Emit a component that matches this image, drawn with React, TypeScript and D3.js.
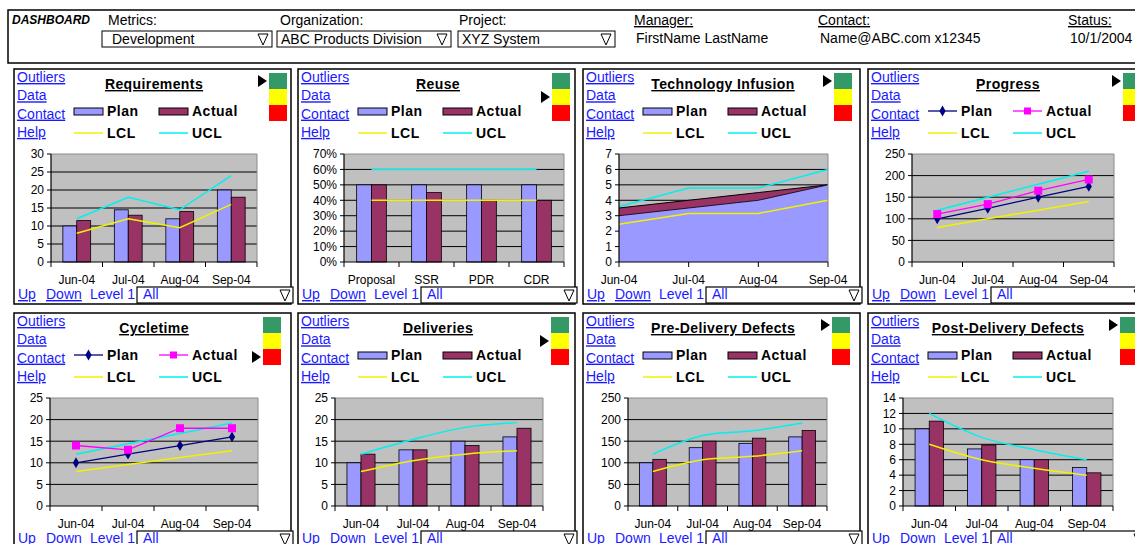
import * as d3 from "d3";

const months = ["Jun-04", "Jul-04", "Aug-04", "Sep-04"];
const phases = ["Proposal", "SSR", "PDR", "CDR"];

const reqPlan = [10, 14.5, 12, 20];
const reqActual = [11.5, 13, 14, 18];
const reqLCL = [8, 12, 9.5, 16];
const reqUCL = [12, 18, 14.5, 24];

const reusePlan = [0.5, 0.5, 0.5, 0.5];
const reuseActual = [0.5, 0.45, 0.4, 0.4];
const reuseLCL = [0.4, 0.4, 0.4, 0.4];
const reuseUCL = [0.6, 0.6, 0.6, 0.6];

const techPlan = [3, 3.5, 4, 5];
const techActual = [3.5, 4, 4.5, 5];
const techLCL = [2.45, 3.15, 3.15, 4];
const techUCL = [3.6, 4.8, 4.8, 6];

const progPlan = [100, 124, 150, 175];
const progActual = [111, 134, 165, 191];
const progLCL = [80, 100, 120, 140];
const progUCL = [120, 150, 180, 210];

const cyclePlan = [10, 12, 14, 16];
const cycleActual = [14, 13, 18, 18];
const cycleLCL = [8, 9.6, 11.2, 12.8];
const cycleUCL = [12, 14.4, 16.8, 19.2];

const delivPlan = [10, 13, 15, 16];
const delivActual = [12, 13, 14, 18];
const delivLCL = [8, 10.5, 12, 12.8];
const delivUCL = [12, 15.4, 18.2, 19.3];

const preDefPlan = [100, 135, 145, 160];
const preDefActual = [108, 150, 157, 175];
const preDefLCL = [80, 107, 115, 128];
const preDefUCL = [120, 163, 174, 192];

const postDefPlan = [10, 7.4, 6, 5];
const postDefActual = [11, 7.9, 6, 4.3];
const postDefLCL = [8, 6, 4.9, 4];
const postDefUCL = [12, 8.9, 7.3, 6];

// 0 = green, 1 = yellow, 2 = red
const statusIdx = [0, 1, 0, 0, 2, 1, 0, 0];

const FONT = "'Liberation Sans', Arial, sans-serif";
const LINK = "#1a1aff";
const PLAN = "#9999ff";
const ACTUAL = "#993366";
const LCLC = "#f2f200";
const UCLC = "#00f0f0";
const LIGHTS = ["#339966", "#ffff00", "#ff0000"];

type Cfg = {
  title: string;
  kind: "bar" | "line" | "area";
  cats: string[];
  plan: number[];
  actual: number[];
  lcl: number[];
  ucl: number[];
  max: number;
  step: number;
  pct?: boolean;
  smooth?: boolean;
  left: number;
  right: number;
  lightX: number;
};

const panels: Cfg[] = [
  { title: "Requirements", kind: "bar", cats: months, plan: reqPlan, actual: reqActual, lcl: reqLCL, ucl: reqUCL, max: 30, step: 5, left: 37, right: 243, lightX: 255 },
  { title: "Reuse", kind: "bar", cats: phases, plan: reusePlan, actual: reuseActual, lcl: reuseLCL, ucl: reuseUCL, max: 0.7, step: 0.1, pct: true, left: 46, right: 266, lightX: 254 },
  { title: "Technology Infusion", kind: "area", cats: months, plan: techPlan, actual: techActual, lcl: techLCL, ucl: techUCL, max: 7, step: 1, left: 36, right: 245, lightX: 251 },
  { title: "Progress", kind: "line", cats: months, plan: progPlan, actual: progActual, lcl: progLCL, ucl: progUCL, max: 250, step: 50, left: 44, right: 246, lightX: 255 },
  { title: "Cycletime", kind: "line", cats: months, plan: cyclePlan, actual: cycleActual, lcl: cycleLCL, ucl: cycleUCL, max: 25, step: 5, left: 36, right: 244, lightX: 249 },
  { title: "Deliveries", kind: "bar", cats: months, plan: delivPlan, actual: delivActual, lcl: delivLCL, ucl: delivUCL, max: 25, step: 5, smooth: true, left: 37, right: 245, lightX: 253 },
  { title: "Pre-Delivery Defects", kind: "bar", cats: months, plan: preDefPlan, actual: preDefActual, lcl: preDefLCL, ucl: preDefUCL, max: 250, step: 50, smooth: true, left: 45, right: 244, lightX: 249 },
  { title: "Post-Delivery Defects", kind: "bar", cats: months, plan: postDefPlan, actual: postDefActual, lcl: postDefLCL, ucl: postDefUCL, max: 14, step: 2, smooth: true, left: 35, right: 245, lightX: 252 },
];

const colX = [14, 298, 583, 868];
const rowY = [69, 313];

function DownTri({ x, y }: { x: number; y: number }) {
  return <path d={`M${x},${y}L${x + 10},${y}L${x + 5},${y + 11}Z`} fill="none" stroke="#000" strokeWidth={1} />;
}

function Header() {
  const t = { fontSize: 14, fill: "#000" };
  const boxes = [
    { x: 102, w: 170, label: "Metrics:", lx: 108, val: "Development", vx: 112 },
    { x: 277, w: 174, label: "Organization:", lx: 280, val: "ABC Products Division", vx: 281 },
    { x: 458, w: 157, label: "Project:", lx: 459, val: "XYZ System", vx: 462 },
  ];
  const infos = [
    { x: 634, label: "Manager:", val: "FirstName LastName" },
    { x: 818, label: "Contact:", val: "Name@ABC.com x12345" },
    { x: 1068, label: "Status:", val: "10/1/2004" },
  ];
  return (
    <g>
      <rect x={8} y={10} width={1140} height={53} fill="none" stroke="#000" strokeWidth={1.5} />
      <text x={12} y={24} fontSize={12} fontWeight="bold" fontStyle="italic">DASHBOARD</text>
      {boxes.map((b) => (
        <g key={b.label}>
          <text x={b.lx} y={25} {...t}>{b.label}</text>
          <rect x={b.x} y={31} width={b.w} height={16} fill="#fff" stroke="#000" strokeWidth={1} />
          <text x={b.vx} y={44} {...t}>{b.val}</text>
          <DownTri x={b.x + b.w - 14} y={34} />
        </g>
      ))}
      {infos.map((b) => (
        <g key={b.label}>
          <text x={b.x} y={25} {...t} style={{ textDecoration: "underline" }}>{b.label}</text>
          <text x={b.x + 2} y={43} {...t}>{b.val}</text>
        </g>
      ))}
    </g>
  );
}

function Panel({ cfg, px, py, status }: { cfg: Cfg; px: number; py: number; status: number }) {
  const x0 = px + cfg.left;
  const x1 = px + cfg.right;
  const yT = py + 85;
  const yB = py + 193;
  const y = d3.scaleLinear().domain([0, cfg.max]).range([yB, yT]);
  const ticks = d3.range(0, cfg.max + cfg.step * 0.5, cfg.step);
  const band = d3.scaleBand<string>().domain(cfg.cats).range([x0, x1]);
  const pt = d3.scalePoint<string>().domain(cfg.cats).range([x0, x1]);
  const bw = band.bandwidth();
  const cx = (i: number) => (cfg.kind === "area" ? pt(cfg.cats[i])! : band(cfg.cats[i])! + bw / 2);
  const fmt = cfg.pct ? d3.format(".0%") : d3.format("d");
  const line = d3
    .line<number>()
    .x((_, i) => cx(i))
    .y((d) => y(d))
    .curve(cfg.smooth ? d3.curveCatmullRom.alpha(0.5) : d3.curveLinear);
  const area = d3
    .area<number>()
    .x((_, i) => cx(i))
    .y0(yB)
    .y1((d) => y(d));
  const xTicks =
    cfg.kind === "area" ? cfg.cats.map((c) => pt(c)!) : d3.range(cfg.cats.length + 1).map((i) => x0 + i * bw);
  const barW = bw * 0.27;
  const diamond = d3.symbol(d3.symbolDiamond, 34)()!;

  const links = ["Outliers", "Data", "Contact", "Help"];
  const lightX = px + cfg.lightX;
  const lg1 = px + 60;
  const lg2 = px + 145;

  const bottomBox = px + 123;

  return (
    <g>
      <rect x={px} y={py} width={277} height={235} fill="#fff" stroke="#000" strokeWidth={1.5} />
      {links.map((l, i) => (
        <text key={l} x={px + 3} y={py + 13 + i * 18.3} fontSize={14} fill={LINK} style={{ textDecoration: "underline" }}>
          {l}
        </text>
      ))}
      <text x={px + 140} y={py + 20} textAnchor="middle" fontSize={14} fontWeight="bold" letterSpacing={0.4} style={{ textDecoration: "underline" }}>
        {cfg.title}
      </text>

      {/* status lights */}
      {LIGHTS.map((c, i) => (
        <rect key={c} x={lightX} y={py + 4 + i * 16} width={18} height={16} fill={c} />
      ))}
      <path
        d={`M${lightX - 2},${py + 12 + status * 16}L${lightX - 11},${py + 6 + status * 16}L${lightX - 11},${py + 18 + status * 16}Z`}
        fill="#000"
      />

      {/* legend */}
      {cfg.kind === "line" ? (
        <g>
          <line x1={lg1} x2={lg1 + 29} y1={py + 42} y2={py + 42} stroke="#000080" strokeWidth={1.3} />
          <path d={diamond} transform={`translate(${lg1 + 14.5},${py + 42})`} fill="#000080" />
          <line x1={lg2} x2={lg2 + 29} y1={py + 42} y2={py + 42} stroke="#ff00ff" strokeWidth={1.3} />
          <rect x={lg2 + 11} y={py + 38.5} width={7} height={7} fill="#ff00ff" />
        </g>
      ) : (
        <g>
          <rect x={lg1} y={py + 39} width={29} height={7} fill={PLAN} stroke="#000" strokeWidth={1} />
          <rect x={lg2} y={py + 39} width={29} height={7} fill={ACTUAL} stroke="#000" strokeWidth={1} />
        </g>
      )}
      <text x={lg1 + 33} y={py + 47} fontSize={14} fontWeight="bold" letterSpacing={0.5}>Plan</text>
      <text x={lg2 + 33} y={py + 47} fontSize={14} fontWeight="bold" letterSpacing={0.5}>Actual</text>
      <line x1={lg1} x2={lg1 + 29} y1={py + 64} y2={py + 64} stroke={LCLC} strokeWidth={1.5} />
      <line x1={lg2} x2={lg2 + 29} y1={py + 64} y2={py + 64} stroke={UCLC} strokeWidth={1.5} />
      <text x={lg1 + 33} y={py + 69} fontSize={14} fontWeight="bold" letterSpacing={0.5}>LCL</text>
      <text x={lg2 + 33} y={py + 69} fontSize={14} fontWeight="bold" letterSpacing={0.5}>UCL</text>

      {/* plot area */}
      <rect x={x0} y={yT} width={x1 - x0} height={yB - yT} fill="#c0c0c0" />
      {ticks
        .filter((t) => t > 0 && t < cfg.max - 1e-9)
        .map((t) => (
          <line key={t} x1={x0} x2={x1} y1={y(t)} y2={y(t)} stroke="#000" strokeWidth={1} />
        ))}

      {cfg.kind === "bar" &&
        cfg.cats.map((c, i) => (
          <g key={c}>
            <rect x={cx(i) - barW} y={y(cfg.plan[i])} width={barW} height={yB - y(cfg.plan[i])} fill={PLAN} stroke="#000" strokeWidth={0.8} />
            <rect x={cx(i)} y={y(cfg.actual[i])} width={barW} height={yB - y(cfg.actual[i])} fill={ACTUAL} stroke="#000" strokeWidth={0.8} />
          </g>
        ))}

      {cfg.kind === "area" && (
        <g>
          <path d={area(cfg.actual)!} fill={ACTUAL} />
          <path d={line(cfg.actual)!} fill="none" stroke="#000" strokeWidth={1} />
          <path d={area(cfg.plan)!} fill={PLAN} />
          <path d={line(cfg.plan)!} fill="none" stroke="#000" strokeWidth={0.8} />
        </g>
      )}

      <path d={line(cfg.lcl)!} fill="none" stroke={LCLC} strokeWidth={1.5} />
      <path d={line(cfg.ucl)!} fill="none" stroke={UCLC} strokeWidth={1.5} />

      {cfg.kind === "line" && (
        <g>
          <path d={line(cfg.plan)!} fill="none" stroke="#000080" strokeWidth={1.3} />
          {cfg.plan.map((v, i) => (
            <path key={i} d={diamond} transform={`translate(${cx(i)},${y(v)})`} fill="#000080" />
          ))}
          <path d={line(cfg.actual)!} fill="none" stroke="#ff00ff" strokeWidth={1.3} />
          {cfg.actual.map((v, i) => (
            <rect key={i} x={cx(i) - 4} y={y(v) - 4} width={8} height={8} fill="#ff00ff" />
          ))}
        </g>
      )}

      {/* border + axes */}
      <path d={`M${x0},${yT}H${x1}V${yB}`} fill="none" stroke="#8a8a8a" strokeWidth={1} />
      <line x1={x0} x2={x0} y1={yT} y2={yB} stroke="#000" strokeWidth={1.2} />
      <line x1={x0} x2={x1} y1={yB} y2={yB} stroke="#000" strokeWidth={1.2} />
      {ticks.map((t) => (
        <g key={t}>
          <line x1={x0 - 4} x2={x0} y1={y(t)} y2={y(t)} stroke="#000" strokeWidth={1} />
          <text x={x0 - 7} y={y(t)} dy="0.36em" textAnchor="end" fontSize={12}>
            {fmt(t)}
          </text>
        </g>
      ))}
      {xTicks.map((xt, i) => (
        <line key={i} x1={xt} x2={xt} y1={yB} y2={yB + 5} stroke="#000" strokeWidth={1} />
      ))}
      {cfg.cats.map((c, i) => (
        <text key={c} x={cx(i)} y={py + 215} textAnchor="middle" fontSize={12}>
          {c}
        </text>
      ))}

      {/* bottom navigation */}
      <text x={px + 4} y={py + 230} fontSize={14} fill={LINK} style={{ textDecoration: "underline" }}>Up</text>
      <text x={px + 32} y={py + 230} fontSize={14} fill={LINK} style={{ textDecoration: "underline" }}>Down</text>
      <text x={px + 76} y={py + 230} fontSize={14} fill={LINK}>Level 1</text>
      <rect x={bottomBox} y={py + 218} width={156} height={16} fill="#fff" stroke="#000" strokeWidth={1.2} />
      <text x={bottomBox + 6} y={py + 230} fontSize={14} fill={LINK}>All</text>
      <DownTri x={bottomBox + 143} y={py + 221} />
    </g>
  );
}

export default function App() {
  return (
    <svg
      width={1135}
      height={544}
      style={{ position: "absolute", left: 0, top: 0, background: "#fff" }}
      fontFamily={FONT}
    >
      <Header />
      {panels.map((c, i) => (
        <Panel key={c.title} cfg={c} px={colX[i % 4]} py={rowY[Math.floor(i / 4)]} status={statusIdx[i]} />
      ))}
    </svg>
  );
}
